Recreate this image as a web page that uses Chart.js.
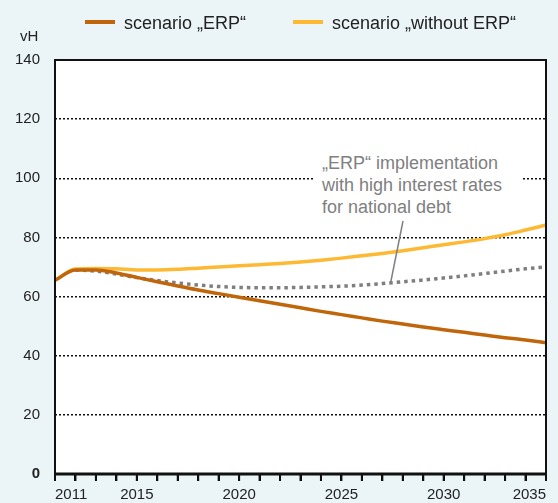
<!DOCTYPE html>
<html>
<head>
<meta charset="utf-8">
<script src="https://cdn.jsdelivr.net/npm/chart.js@4"></script>
<style>
  html, body { margin: 0; padding: 0; background: #ebf5f8; }
  #wrap { position: relative; width: 558px; height: 503px; font-family: "Liberation Sans", Arial, sans-serif; }
  #debtChart { position: absolute; left: 0; top: 0; }
  .leg { position: absolute; top: 13px; font-size: 18px; color: #222; white-space: nowrap; }
  .leg i { display: inline-block; width: 30px; height: 4px; margin-right: 9px; vertical-align: middle; position: relative; top: -2px; }
  #unit { position: absolute; left: 20px; top: 27px; font-size: 15px; color: #222; }
  #note { position: absolute; left: 314px; top: 152px; width: 200px; font-size: 18px; line-height: 22px; color: #808080; background: #fff; padding: 0 0 0 8px; }
</style>
</head>
<body>
<div id="wrap">
  <canvas id="debtChart" width="558" height="503"></canvas>
  <div class="leg" style="left:85px"><i style="background:#c0650a"></i>scenario „ERP“</div>
  <div class="leg" style="left:293px"><i style="background:#fdb933"></i>scenario „without ERP“</div>
  <div id="unit">vH</div>
  <div id="note">„ERP“ implementation<br>with high interest rates<br>for national debt</div>
</div>
<script>
// lata 2011–2035
const years = [2011, 2012, 2013, 2014, 2015, 2016, 2017, 2018, 2019, 2020, 2021, 2022,
               2023, 2024, 2025, 2026, 2027, 2028, 2029, 2030, 2031, 2032, 2033, 2034, 2035];
const labeledYears = [2011, 2015, 2020, 2025, 2030, 2035];

// scenariusz "ERP"
const erp = [65.5, 69.0, 69.0, 68.0, 66.5, 65.0, 63.6, 62.2, 61.0, 59.8, 58.6, 57.4,
             56.2, 55.0, 53.9, 52.8, 51.7, 50.7, 49.7, 48.8, 47.9, 47.0, 46.1, 45.3, 44.4];
// scenariusz "without ERP"
const withoutErp = [65.5, 69.3, 69.5, 69.4, 69.0, 69.0, 69.2, 69.6, 70.0, 70.4, 70.8, 71.2,
                    71.7, 72.3, 73.0, 73.8, 74.6, 75.5, 76.5, 77.5, 78.5, 79.6, 80.9, 82.5, 84.2];
// "ERP" z wysokimi stopami procentowymi
const erpHighRates = [null, 69.0, 68.6, 67.6, 66.4, 65.4, 64.6, 63.9, 63.4, 63.1, 63.0, 63.0,
                      63.1, 63.3, 63.5, 63.9, 64.4, 65.0, 65.6, 66.3, 67.0, 67.8, 68.6, 69.4, 70.0];
const yTicks = [0, 20, 40, 60, 80, 100, 120, 140];
const notePoint = { x: 2027.4, y: 64.5 };

const toXY = arr => years.map((y, i) => ({ x: y, y: arr[i] }));

// białe tło, ramka wykresu, znaczniki lat + linia do adnotacji
const framePlugin = {
    id: 'frame',
    beforeDraw(chart) {
        const { ctx, chartArea: a } = chart;
        ctx.save();
        ctx.fillStyle = '#fff';
        ctx.fillRect(a.left, a.top, a.right - a.left, a.bottom - a.top);
        ctx.restore();
    },
    afterDraw(chart) {
        const { ctx, chartArea: a, scales } = chart;
        ctx.save();
        ctx.strokeStyle = '#111';
        ctx.lineWidth = 2;
        ctx.strokeRect(a.left, a.top, a.right - a.left, a.bottom - a.top);
        // znaczniki pod osią X
        ctx.beginPath();
        years.forEach(yr => {
            const px = scales.x.getPixelForValue(yr);
            ctx.moveTo(px, a.bottom);
            ctx.lineTo(px, a.bottom + 7);
        });
        ctx.stroke();
        ctx.lineWidth = 3;
        ctx.beginPath();
        ctx.moveTo(a.left - 1, a.bottom);
        ctx.lineTo(a.right + 1, a.bottom);
        ctx.stroke();
        // wskaźnik adnotacji
        ctx.strokeStyle = '#808080';
        ctx.lineWidth = 1.5;
        ctx.beginPath();
        ctx.moveTo(403, 221);
        ctx.lineTo(scales.x.getPixelForValue(notePoint.x), scales.y.getPixelForValue(notePoint.y));
        ctx.stroke();
        ctx.restore();
    }
};

const ctx = document.getElementById('debtChart').getContext('2d');
new Chart(ctx, {
    type: 'line',
    data: {
        datasets: [
            {
                label: 'ERP high rates',
                data: toXY(erpHighRates),
                borderColor: '#7f7f7f',
                borderWidth: 3.5,
                borderDash: [3.5, 4],
                pointRadius: 0,
                cubicInterpolationMode: 'monotone',
                order: 3
            },
            {
                label: 'scenario „without ERP“',
                data: toXY(withoutErp),
                borderColor: '#fdb933',
                borderWidth: 3.5,
                pointRadius: 0,
                cubicInterpolationMode: 'monotone',
                order: 2
            },
            {
                label: 'scenario „ERP“',
                data: toXY(erp),
                borderColor: '#c0650a',
                borderWidth: 3.5,
                pointRadius: 0,
                cubicInterpolationMode: 'monotone',
                order: 1
            }
        ]
    },
    options: {
        responsive: false,
        animation: false,
        layout: { padding: { top: 60, right: 12, left: 0, bottom: 0 } },
        plugins: {
            legend: { display: false },
            tooltip: { enabled: false }
        },
        scales: {
            x: {
                type: 'linear',
                min: 2011,
                max: 2035,
                afterFit: s => { s.height = 29; },
                afterBuildTicks: s => { s.ticks = years.map(v => ({ value: v })); },
                grid: {
                    drawOnChartArea: false,
                    drawTicks: true,
                    tickLength: 7,
                    tickColor: '#000',
                    color: '#000',
                    lineWidth: 2
                },
                border: { display: false },
                ticks: {
                    autoSkip: false,
                    maxRotation: 0,
                    align: 'inner',
                    padding: 5,
                    color: '#222',
                    font: { family: 'Liberation Sans', size: 15 },
                    callback: v => labeledYears.includes(v) ? String(v) : ''
                }
            },
            y: {
                min: 0,
                max: 140,
                afterFit: s => { s.width = 55; },
                afterBuildTicks: s => { s.ticks = yTicks.map(v => ({ value: v })); },
                grid: {
                    drawTicks: false,
                    color: '#111',
                    lineWidth: 1.5
                },
                border: { display: false, dash: [2, 2] },
                ticks: {
                    padding: 15,
                    color: '#222',
                    font: ctx => ({ family: 'Liberation Sans', size: 15, weight: ctx.tick && ctx.tick.value === 0 ? 'bold' : 'normal' })
                }
            }
        }
    },
    plugins: [framePlugin]
});
</script>
</body>
</html>
